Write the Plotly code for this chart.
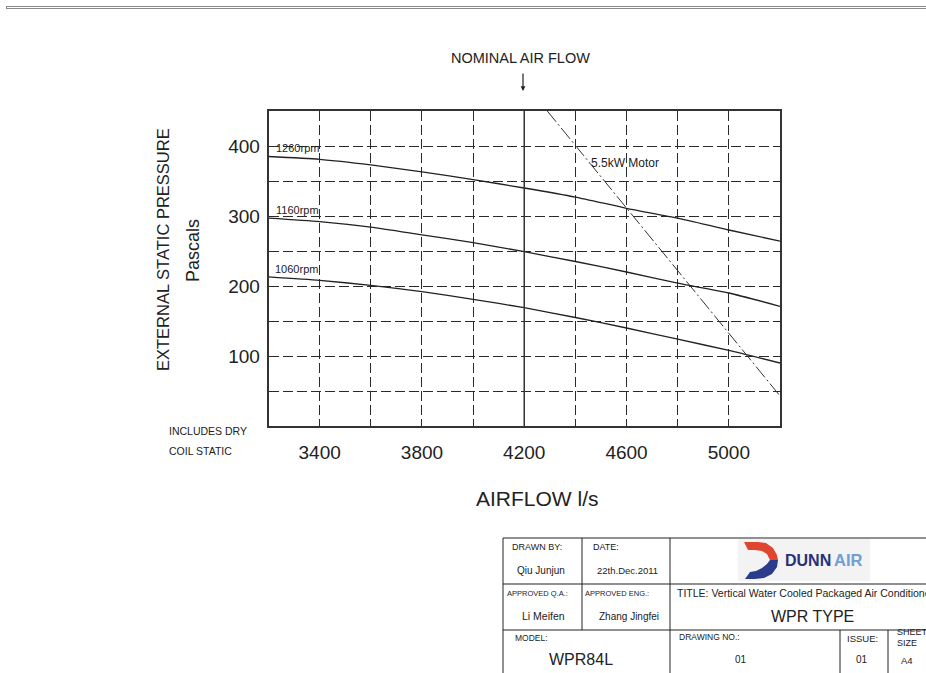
import plotly.graph_objects as go

# ---------------- data ----------------
AIRFLOW = [3200, 3400, 3600, 3800, 4000, 4200, 4400, 4600, 4800, 5000, 5200]
P_1260 = [385, 381, 373, 363, 352, 340, 327, 311, 297, 280, 264]
P_1160 = [297, 292, 284, 273, 262, 249, 235, 220, 204, 190, 171]
P_1060 = [213, 208, 201, 192, 181, 169, 155, 140, 124, 108, 90]
MOTOR_FLOW = [4290, 5200]
MOTOR_PRESSURE = [450, 43]
NOMINAL_FLOW = 4200

X_TICKS = [3200, 3400, 3600, 3800, 4000, 4200, 4400, 4600, 4800, 5000, 5200]
X_LABELS = ["", "3400", "", "3800", "", "4200", "", "4600", "", "5000", ""]
Y_TICKS = [0, 50, 100, 150, 200, 250, 300, 350, 400, 450]
Y_LABELS = ["", "", "100", "", "200", "", "300", "", "400", ""]

CURVE_LABELS = ["1260rpm", "1160rpm", "1060rpm"]
CURVE_LABEL_X = [3315, 3315, 3310]
CURVE_LABEL_Y = [397, 308, 224]

W, H = 926, 673
FONT = "Liberation Sans, Arial, sans-serif"
INK = "#222222"


def px(x):
    return x / W


def py(y):
    return 1 - y / H


fig = go.Figure()

line_style = dict(color=INK, width=1.3, shape="spline", smoothing=0.6)
for vals in (P_1260, P_1160, P_1060):
    fig.add_trace(go.Scatter(x=AIRFLOW, y=vals, mode="lines", line=line_style,
                             hoverinfo="skip", showlegend=False))

fig.add_trace(go.Scatter(x=MOTOR_FLOW, y=MOTOR_PRESSURE, mode="lines",
                         line=dict(color="#333333", width=1, dash="14px,3px,2px,3px"),
                         hoverinfo="skip", showlegend=False))

# nominal air flow line (solid)
fig.add_vline(x=NOMINAL_FLOW, line=dict(color="#333333", width=1.5), layer="above")

grid = dict(showgrid=True, gridcolor="#2a2a2a", gridwidth=1.3, griddash="10px,4px")

fig.update_xaxes(range=[3200, 5200], domain=[px(268.5), px(780)],
                 tickvals=X_TICKS, ticktext=X_LABELS, showline=True, mirror=True,
                 linecolor="#333333", linewidth=1.5, zeroline=False,
                 ticks="", ticklabelstandoff=8,
                 tickfont=dict(family=FONT, size=19, color=INK), **grid)
fig.update_yaxes(range=[0, 450], domain=[py(426), py(111)],
                 tickvals=Y_TICKS, ticktext=Y_LABELS, showline=True, mirror=True,
                 linecolor="#333333", linewidth=1.5, zeroline=False,
                 ticks="", ticklabelstandoff=3,
                 tickfont=dict(family=FONT, size=19, color=INK), **grid)

ann = []
for t, x, y in zip(CURVE_LABELS, CURVE_LABEL_X, CURVE_LABEL_Y):
    ann.append(dict(x=x, y=y, xref="x", yref="y", text=t, showarrow=False,
                    font=dict(family=FONT, size=11, color=INK)))
ann.append(dict(x=4455, y=376, xref="x", yref="y", text="5.5kW Motor", showarrow=False,
                xanchor="left", font=dict(family=FONT, size=12, color=INK)))


def txt(x, y, text, size, anchor="center", angle=0, color=INK, bold=False, family=FONT):
    if bold:
        text = "<b>" + text + "</b>"
    ann.append(dict(x=px(x), y=py(y), xref="paper", yref="paper", text=text,
                    showarrow=False, xanchor=anchor, yanchor="middle", textangle=angle,
                    font=dict(family=family, size=size, color=color)))


txt(520, 58, "NOMINAL AIR FLOW", 14.5)
ann.append(dict(x=px(523), y=py(91), ax=0, ay=-19, xref="paper", yref="paper",
                axref="pixel", ayref="pixel", text="", showarrow=True, arrowhead=2,
                arrowsize=0.8, arrowwidth=1.2, arrowcolor=INK))
txt(163, 250, "EXTERNAL STATIC PRESSURE", 16.5, angle=-90)
txt(193, 251, "Pascals", 18, angle=-90)
txt(537, 498, "AIRFLOW l/s", 21)
txt(167, 431, "INCLUDES DRY", 10.5, anchor="left")
txt(167, 451, "COIL STATIC", 10.5, anchor="left")

# title block texts
txt(510, 547, "DRAWN BY:", 9, anchor="left")
txt(515, 570, "Qiu Junjun", 10, anchor="left")
txt(591, 547, "DATE:", 9, anchor="left")
txt(595, 570, "22th.Dec.2011", 9.5, anchor="left")
txt(505, 593, "APPROVED Q.A.:", 7.5, anchor="left")
txt(583, 593, "APPROVED ENG.:", 7.5, anchor="left")
txt(520, 616, "Li Meifen", 10.5, anchor="left")
txt(597, 616, "Zhang Jingfei", 10, anchor="left")
txt(675, 593, "TITLE: Vertical Water Cooled Packaged Air Conditioner", 10.5, anchor="left")
txt(812, 616, "WPR TYPE", 16)
txt(513, 638, "MODEL:", 8.5, anchor="left")
txt(581, 659, "WPR84L", 16)
txt(677, 637, "DRAWING NO.:", 8.5, anchor="left")
txt(741, 659, "01", 10)
txt(845, 638, "ISSUE:", 9.5, anchor="left")
txt(862, 659, "01", 10)
txt(895, 632, "SHEET", 9, anchor="left")
txt(895, 643, "SIZE", 9, anchor="left")
txt(907, 660, "A4", 9.5)
txt(783, 560, "DUNN", 16, anchor="left", color="#27317a", bold=True)
txt(832, 560, "AIR", 16.5, anchor="left", color="#6f9fd6", bold=True)

# top edge of the drawing frame: a 1px-tall bordered box acting as a line
ann.append(dict(x=px(6), y=py(6), xref="paper", yref="paper", xanchor="left",
                yanchor="top", text=" ", showarrow=False, width=920, height=1,
                bordercolor="#8a8a8a", borderwidth=1, borderpad=0))

shapes = []


def hline(x0, x1, y, color="#222222", width=1):
    shapes.append(dict(type="line", xref="paper", yref="paper", x0=px(x0), x1=px(x1),
                       y0=py(y), y1=py(y), line=dict(color=color, width=width)))


def vline(x, y0, y1, color="#222222", width=1):
    shapes.append(dict(type="line", xref="paper", yref="paper", x0=px(x), x1=px(x),
                       y0=py(y0), y1=py(y1), line=dict(color=color, width=width)))


def path(points, fill):
    d = "M " + " L ".join(f"{px(a):.5f},{py(b):.5f}" for a, b in points) + " Z"
    shapes.append(dict(type="path", xref="paper", yref="paper", path=d,
                       fillcolor=fill, line=dict(width=0)))


# left edge of the drawing frame
vline(7, 6, 673, color="#707070", width=2)

# title block grid
hline(503, 926, 538)
hline(503, 926, 584)
hline(503, 926, 630)
vline(503, 538, 673)
vline(582, 538, 630)
vline(670, 538, 673)
vline(840, 630, 673)
vline(888, 630, 673)

# logo background + swoosh
shapes.append(dict(type="rect", xref="paper", yref="paper", x0=px(738), x1=px(870),
                   y0=py(581), y1=py(539), fillcolor="#f3f3f3", line=dict(width=0),
                   layer="below"))
path([(744, 542), (758, 542), (766, 543), (773, 548), (777, 555), (778, 560),
      (770, 560), (767, 554), (762, 551), (755, 550), (748, 550)], "#e0452f")
path([(778, 560), (777, 567), (772, 574), (764, 578), (755, 579), (745, 579),
      (750, 572), (756, 571), (762, 568), (767, 564), (770, 560)], "#2c3c8c")

fig.update_layout(width=W, height=H, margin=dict(l=0, r=0, t=0, b=0),
                  paper_bgcolor="white", plot_bgcolor="white",
                  annotations=ann, shapes=shapes, showlegend=False)

fig.write_html("out.html", config={"displayModeBar": False},
               post_script="document.body.style.margin='0';document.body.style.overflow='hidden';")
